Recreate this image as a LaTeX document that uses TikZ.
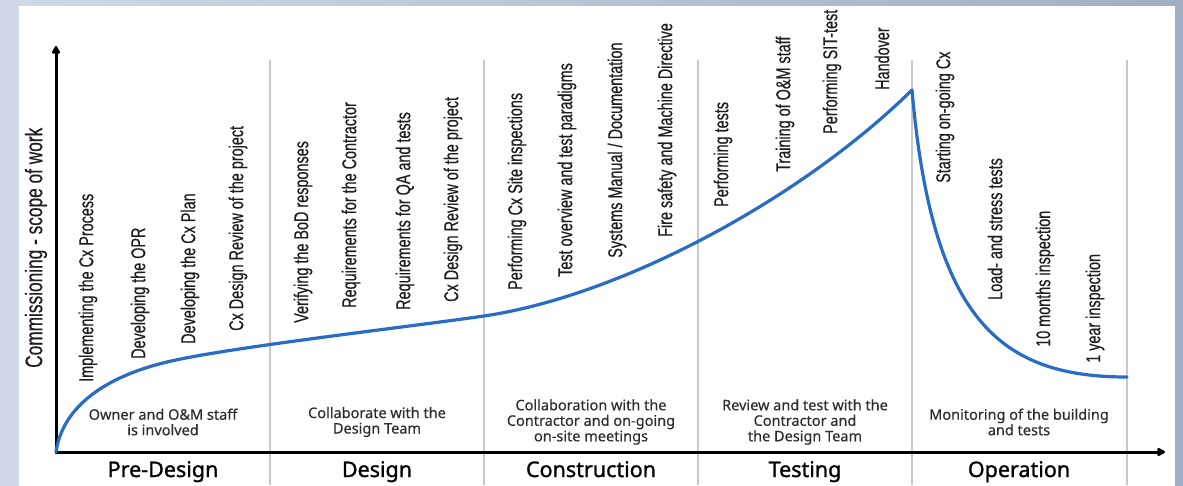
\documentclass[tikz,border=0pt]{standalone}
\usepackage{fontspec}
\setmainfont{Noto Sans}[FakeBold=0.3]
\newfontfamily\condfont[FakeStretch=0.72,FakeBold=0.4]{Liberation Sans}
\newfontfamily\phasefont[FakeBold=1.2]{Noto Sans}
\usetikzlibrary{arrows.meta}

\definecolor{bgleft}{RGB}{208,217,229}
\definecolor{bgright}{RGB}{160,175,196}
\definecolor{divgray}{RGB}{200,200,200}
\definecolor{curveblue}{RGB}{40,108,200}
\definecolor{labelink}{RGB}{30,30,30}
\definecolor{noteink}{RGB}{45,45,45}

\begin{document}
\begin{tikzpicture}[x=1pt,y=-1pt,
  task/.style={rotate=90, anchor=west, inner sep=0pt,
    font=\condfont\fontsize{20}{20}\selectfont, text=labelink},
  ylabel/.style={task, font=\condfont\fontsize{24}{24}\selectfont},
  note/.style={align=center, inner sep=0pt,
    font=\fontsize{14.5}{15.5}\selectfont, text=noteink},
  phase/.style={anchor=base, inner sep=0pt,
    font=\phasefont\fontsize{21.5}{21.5}\selectfont, text=black},
  divider/.style={draw=divgray, line width=1.5pt},
  axis/.style={line width=3pt, line cap=rect,
    -{Triangle[length=9pt,width=9pt,round]}},
  curve/.style={draw=curveblue, line width=3.2pt, line join=round, line cap=round}]

\useasboundingbox (0,0) rectangle (1183,486);

% backdrop and white panel
\shade[left color=bgleft, right color=bgright] (0,0) rectangle (1183,486);
\fill[white] (19,6) rectangle (1175,486);

% phase dividers
\foreach \x/\n in {270/d1, 484/d2, 698/d3, 912/d4, 1127/d5} {
  \coordinate (\n top) at (\x,60);
  \coordinate (\n bot) at (\x,485);
  \draw[divider] (\n top) -- (\n bot);
}

% axes
\coordinate (O) at (56,452);
\coordinate (ytip) at (56,46);
\coordinate (xtip) at (1165,452);
\draw[axis] (O) -- (ytip);
\draw[axis] (O) -- (xtip);

% scope-of-work curve: slow start, growth up to handover, then decay
\coordinate (c0) at (56,452);
\coordinate (c1) at (167,362);
\coordinate (c2) at (484,316);
\coordinate (peak) at (912,90);
\coordinate (c4) at (1127,377);
\draw[curve] (c0) .. controls (62,410) and (100,378) .. (c1)
  .. controls (227,347.6) and (404,327.5) .. (c2)
  .. controls (620,296) and (800,200) .. (peak)
  .. controls (932,320) and (1000,377) .. (c4);

% axis title
\node[ylabel] (ytitle) at (36,368) {Commissioning - scope of work};

% activities
\node[task] (t1)  at (88,382)  {Implementing the Cx Process};
\node[task] (t2)  at (140,359) {Developing the OPR};
\node[task] (t3)  at (190,344) {Developing the Cx Plan};
\node[task] (t4)  at (238,331) {Cx Design Review of the project};
\node[task] (t5)  at (303,323) {Verifying the BoD responses};
\node[task] (t6)  at (351,308) {Requirements for the Contractor};
\node[task] (t7)  at (405,310) {Requirements for QA and tests};
\node[task] (t8)  at (453,302) {Cx Design Review of the project};
\node[task] (t9)  at (517,290) {Performing Cx Site inspections};
\node[task] (t10) at (567,277) {Test overview and test paradigms};
\node[task] (t11) at (617,258) {Systems Manual / Documentation};
\node[task] (t12) at (667,237) {Fire safety and Machine Directive};
\node[task] (t13) at (723,207) {Performing tests};
\node[task] (t14) at (785,172) {Training of O\&M staff};
\node[task] (t15) at (832,134) {Performing SIT-test};
\node[task] (t16) at (882,90)  {Handover};
\node[task] (t17) at (945,183) {Starting on-going Cx};
\node[task] (t18) at (995,300) {Load- and stress tests};
\node[task] (t19) at (1045,347) {10 months inspection};
\node[task] (t20) at (1095,363) {1 year inspection};

% who is involved
\node[note] (n1) at (163,422) {Owner and O\&M staff\\is involved};
\node[note] (n2) at (377,422) {Collaborate with the\\Design Team};
\node[note] (n3) at (591,422) {Collaboration with the\\Contractor and on-going\\on-site meetings};
\node[note] (n4) at (805,422) {Review and test with the\\Contractor and\\the Design Team};
\node[note] (n5) at (1019,422) {Monitoring of the building\\and tests};

% phases
\node[phase] (p1) at (163,477) {Pre-Design};
\node[phase] (p2) at (377,477) {Design};
\node[phase] (p3) at (591,477) {Construction};
\node[phase] (p4) at (805,477) {Testing};
\node[phase] (p5) at (1019,477) {Operation};
\end{tikzpicture}
\end{document}
